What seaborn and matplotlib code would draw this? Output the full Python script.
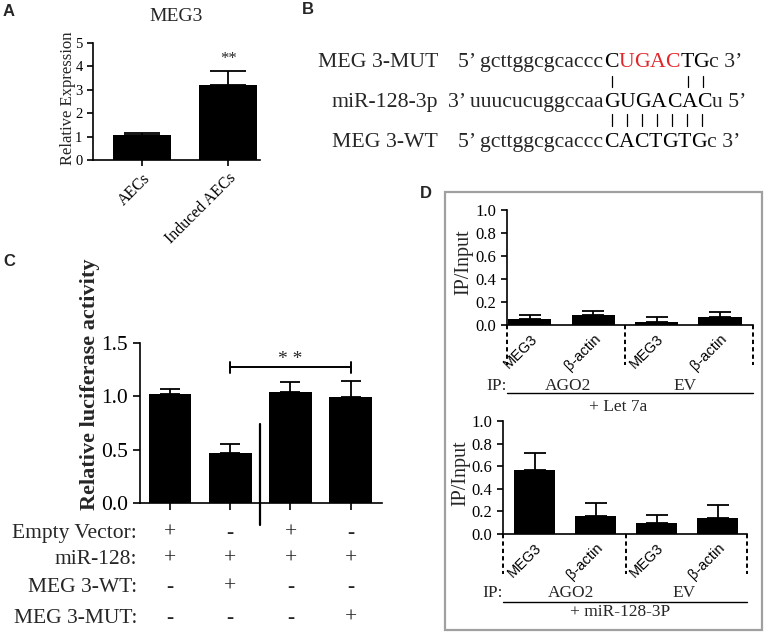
import matplotlib
matplotlib.use("Agg")
import matplotlib.pyplot as plt
import seaborn as sns
import numpy as np
import pandas as pd
from matplotlib.patches import Rectangle

# ---------------- data ----------------
a_groups = ["AECs", "Induced AECs"]
a_values = [1.05, 3.20]
a_errors = [0.10, 0.62]
a_ticks = [0, 1, 2, 3, 4, 5]

b_labels = ["MEG 3-MUT", "miR-128-3p", "MEG 3-WT"]
b_prefix = ["5\u2019 gcttggcgcaccc", "3\u2019 uuucucuggccaa", "5\u2019 gcttggcgcaccc"]
b_core = ["CUGACTG", "GUGACAC", "CACTGTG"]
b_core_red = [[1, 2, 3, 4], [], []]
b_suffix = ["c 3\u2019", "u 5\u2019", "c 3\u2019"]
b_pairs_top = [0, 5, 6]
b_pairs_bottom = [0, 1, 2, 3, 4, 5, 6]

c_groups = ["g1", "g2", "g3", "g4"]
c_values = [1.02, 0.47, 1.04, 0.99]
c_errors = [0.05, 0.08, 0.09, 0.15]
c_ticks = [0.0, 0.5, 1.0, 1.5]
c_row_labels = ["Empty Vector:", "miR-128:", "MEG 3-WT:", "MEG 3-MUT:"]
c_row_signs = [["+", "-", "+", "-"],
               ["+", "+", "+", "+"],
               ["-", "+", "-", "-"],
               ["-", "-", "-", "+"]]

d_ids = ["AGO2-MEG3", "AGO2-actin", "EV-MEG3", "EV-actin"]
d_targets = ["MEG3", "\u03b2-actin", "MEG3", "\u03b2-actin"]
d_ip_groups = ["AGO2", "EV"]
d_let7a_values = [0.05, 0.09, 0.03, 0.07]
d_let7a_errors = [0.04, 0.03, 0.04, 0.04]
d_mir_values = [0.57, 0.16, 0.10, 0.14]
d_mir_errors = [0.15, 0.11, 0.07, 0.12]
d_ticks = [0.0, 0.2, 0.4, 0.6, 0.8, 1.0]

# ---------------- style ----------------
sns.set_style("ticks")
plt.rcParams["font.family"] = ["Liberation Serif", "DejaVu Serif"]
plt.rcParams["axes.linewidth"] = 1.2
plt.rcParams["xtick.major.width"] = 1.2
plt.rcParams["ytick.major.width"] = 1.2
plt.rcParams["xtick.color"] = "black"
plt.rcParams["ytick.color"] = "black"
plt.rcParams["axes.edgecolor"] = "black"

W, H = 770, 639
fig = plt.figure(figsize=(W / 100, H / 100), dpi=100)


def rect(l, t, r, b):
    return [l / W, 1 - b / H, (r - l) / W, (b - t) / H]


def bars(ax, ids, values, errors, width, capsize):
    df = pd.DataFrame({"id": ids, "value": values})
    sns.barplot(data=df, x="id", y="value", color="black", width=width,
                saturation=1, errorbar=None, ax=ax, zorder=2, linewidth=0)
    pos = np.arange(len(values))
    ax.errorbar(pos, values, yerr=[np.zeros(len(values)), errors], fmt="none",
                ecolor="black", elinewidth=1.3, capsize=capsize, capthick=1.3, zorder=1)
    sns.despine(ax=ax)
    ax.set_xlabel("")
    ax.set_ylabel("")
    return pos


# ---------------- panel A ----------------
axA = fig.add_axes(rect(93, 43, 260, 160))
pos = bars(axA, a_groups, a_values, a_errors, 0.67, 13)
axA.set_ylim(0, 5)
axA.set_xlim(-0.57, 1.37)
axA.set_yticks(a_ticks)
axA.set_yticklabels([str(t) for t in a_ticks], fontsize=10.5)
axA.set_xticks(pos)
axA.set_xticklabels(a_groups, rotation=45, ha="right", rotation_mode="anchor", fontsize=11.5)
axA.tick_params(length=4)
axA.set_ylabel("Relative Expression", fontsize=12)
axA.yaxis.set_label_coords(-0.10, 0.53)
axA.set_title("MEG3", fontsize=14, pad=16)
axA.text(1, 4.3, "**", ha="center", va="center", fontsize=12)

# ---------------- panel C ----------------
axC = fig.add_axes(rect(140, 343, 382, 503))
pos = bars(axC, c_groups, c_values, c_errors, 0.71, 7)
axC.set_ylim(0, 1.5)
axC.set_xlim(-0.5, 3.52)
axC.set_yticks(c_ticks)
axC.set_yticklabels([f"{t:.1f}" for t in c_ticks], fontsize=15.5)
axC.set_xticks(pos)
axC.set_xticklabels([])
axC.tick_params(length=5)
axC.set_ylabel("Relative luciferase activity", fontsize=16, fontweight="bold")
axC.yaxis.set_label_coords(-0.165, 0.74)
# significance bracket
axC.plot([1, 3], [1.275, 1.275], color="black", lw=1.4, clip_on=False)
for xb in (1, 3):
    axC.plot([xb, xb], [1.22, 1.32], color="black", lw=1.4, clip_on=False)
axC.text(2, 1.35, "* *", ha="center", va="center", fontsize=14)
# separator line
axC.plot([1.5, 1.5], [0.74, -0.21], color="black", lw=1.6, clip_on=False)
# condition table
row_y = [-0.19, -0.35, -0.525, -0.72]
tr = axC.get_xaxis_transform()
for r, lab in enumerate(c_row_labels):
    axC.text(-0.55, row_y[r], lab, transform=tr, ha="right", va="center", fontsize=15.5)
    for i, s in enumerate(c_row_signs[r]):
        axC.text(pos[i], row_y[r], s, transform=tr, ha="center", va="center", fontsize=15.5)

# ---------------- panel D ----------------
def panel_d(box, values, errors, xl, lab_coords, rows_y, caption):
    ax = fig.add_axes(rect(*box))
    pos = bars(ax, d_ids, values, errors, 0.68, 8)
    ax.set_ylim(0, 1.0)
    ax.set_xlim(*xl)
    ax.set_yticks(d_ticks)
    ax.set_yticklabels([f"{t:.1f}" for t in d_ticks], fontsize=12)
    ax.set_xticks(pos)
    ax.set_xticklabels(d_targets, rotation=45, ha="right", rotation_mode="anchor",
                       fontsize=10.5, family=["Liberation Sans", "DejaVu Sans"])
    ax.tick_params(axis="x", length=0, pad=5)
    ax.tick_params(axis="y", length=4)
    ax.set_ylabel("IP/Input", fontsize=14.5)
    ax.yaxis.set_label_coords(*lab_coords)
    for xd in (xl[0], 1.5, xl[1]):
        ax.plot([xd, xd], [0, -0.35], color="black", lw=1.4, ls=(0, (2.2, 1.6)), clip_on=False)
    tr = ax.get_xaxis_transform()
    ax.text(xl[0], rows_y[0], "IP:", transform=tr, ha="right", va="center", fontsize=12.5)
    ax.text(0.6, rows_y[0], d_ip_groups[0], transform=tr, ha="center", va="center", fontsize=12.5)
    ax.text(2.45, rows_y[0], d_ip_groups[1], transform=tr, ha="center", va="center", fontsize=12.5)
    ax.plot([xl[0], xl[1]], [rows_y[1], rows_y[1]], transform=tr, color="black", lw=1.0, clip_on=False)
    ax.text(1.4, rows_y[2], caption, transform=tr, ha="center", va="center", fontsize=12.5)
    return ax

panel_d((507, 210, 753, 325), d_let7a_values, d_let7a_errors, (-0.36, 3.52),
        (-0.138, 0.55), [-0.53, -0.59, -0.71], "+ Let 7a")
panel_d((503, 421, 747, 534), d_mir_values, d_mir_errors, (-0.52, 3.48),
        (-0.135, 0.54), [-0.52, -0.60, -0.69], "+ miR-128-3P")

# ---------------- overlay: panel letters, box, panel B ----------------
ov = fig.add_axes([0, 0, 1, 1], zorder=10)
ov.set_xlim(0, W)
ov.set_ylim(H, 0)
ov.axis("off")
ov.patch.set_alpha(0)

sans = ["Liberation Sans", "DejaVu Sans"]
for lab, x, y in [("A", 3, 11), ("B", 302, 9), ("C", 3, 262), ("D", 420, 194)]:
    ov.text(x, y, lab, ha="left", va="center", fontsize=12, fontweight="bold", family=sans)

ov.add_patch(Rectangle((445, 192), 317, 438, fill=False, ec="#a0a0a0", lw=1.6))

renderer = fig.canvas.get_renderer()
bfont = dict(fontsize=15.7)


def measure(s):
    t = ov.text(0, 0, s, **bfont)
    w = t.get_window_extent(renderer=renderer).width
    t.remove()
    return w


x_label_right = 438
x_core = 604
baselines = [67, 107, 147]
centers = []
for i in range(3):
    y = baselines[i]
    ov.text(x_label_right, y, b_labels[i], ha="right", va="baseline", **bfont)
    ov.text(x_core - 1, y, b_prefix[i], ha="right", va="baseline", **bfont)
    x = x_core
    cs = []
    for k, ch in enumerate(b_core[i]):
        col = "#e0262b" if k in b_core_red[i] else "black"
        ov.text(x, y, ch, ha="left", va="baseline", color=col, **bfont)
        w = measure(ch)
        cs.append(x + w / 2)
        x += w
    centers.append(cs)
    ov.text(x, y, b_suffix[i], ha="left", va="baseline", **bfont)

for k in b_pairs_top:
    xc = (centers[0][k] + centers[1][k]) / 2
    ov.plot([xc, xc], [76, 87], color="black", lw=0.9)
for k in b_pairs_bottom:
    xc = (centers[1][k] + centers[2][k]) / 2
    ov.plot([xc, xc], [114, 126], color="black", lw=0.9)

fig.savefig("out.png", dpi=100)
